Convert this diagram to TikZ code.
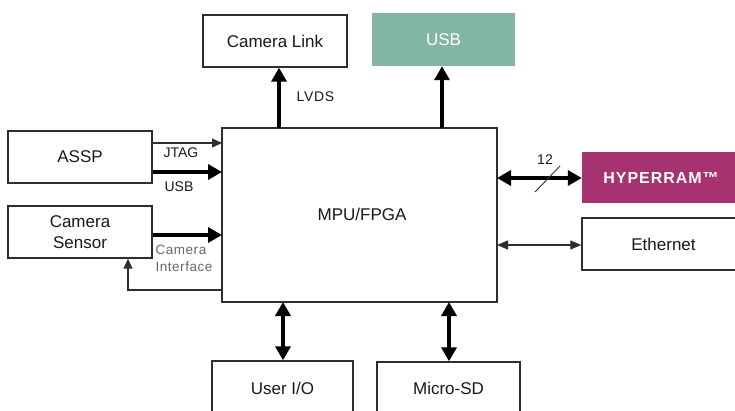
\documentclass[tikz,border=0pt]{standalone}
\usepackage{fontspec}
\setmainfont{Liberation Sans}
\usetikzlibrary{arrows.meta}
\definecolor{usbgreen}{HTML}{82B5A3}
\definecolor{hyper}{HTML}{A6336F}
\definecolor{edge}{HTML}{2E2E2E}
\begin{document}
\begin{tikzpicture}[x=1pt,y=-1pt,
  boxtext/.style={font=\fontsize{17}{21}\selectfont,text=black!90},
  box/.style={draw=edge,line width=1.4pt,fill=white,boxtext,inner sep=0pt},
  thick arr/.style={line width=4.2pt,-{Triangle[width=15pt,length=14pt]}},
  thick dbl/.style={line width=4.2pt,{Triangle[width=15pt,length=14pt]}-{Triangle[width=15pt,length=14pt]}},
  thin arr/.style={line width=1.2pt,draw=edge,-{Triangle[width=9pt,length=10pt]}},
  thin dbl/.style={line width=1.2pt,draw=edge,{Triangle[width=9pt,length=11pt]}-{Triangle[width=9pt,length=11pt]}},
  lbl/.style={font=\fontsize{14}{16}\selectfont,text=black!90,inner sep=0pt},
  small/.style={font=\fontsize{13.5}{17}\selectfont\addfontfeature{LetterSpace=4},text=black!60,align=left,inner sep=0pt}]
\useasboundingbox (0,0) rectangle (735,410);
% MPU/FPGA
\node[box,minimum width=275pt,minimum height=174pt] (mpu) at (359.5,215) {};
\node[boxtext] (mputext) at (362,214) {MPU/FPGA};
% other boxes
\node[box,minimum width=144pt,minimum height=52pt] (camlink) at (275,41) {Camera Link};
\node[draw=none,fill=usbgreen,text=white,minimum width=143pt,minimum height=53pt,boxtext,text=white] (usb) at (443.5,39.5) {USB};
\node[box,minimum width=144pt,minimum height=52pt] (assp) at (80,157) {ASSP};
\node[box,minimum width=144pt,minimum height=52pt,align=center] (cams) at (80,232) {Camera\\Sensor};
\node[draw=none,fill=hyper,text=white,minimum width=158pt,minimum height=51pt,font=\bfseries\fontsize{16}{19}\selectfont\addfontfeature{LetterSpace=6}] (hyper) at (661,177.5) {HYPERRAM™};
\node[box,minimum width=163pt,minimum height=52pt] (eth) at (663.5,244) {Ethernet};
\node[box,minimum width=141pt,minimum height=54pt] (uio) at (282.5,388) {User I/O};
\node[box,minimum width=143pt,minimum height=52pt] (msd) at (448.5,388) {Micro-SD};
% coordinates on MPU edges
\coordinate (mt1) at (279,128);
\coordinate (mt2) at (442,128);
\coordinate (mb1) at (283,302);
\coordinate (mb2) at (449,302);
\coordinate (ml1) at (222,143);
\coordinate (ml2) at (222,172);
\coordinate (ml3) at (222,235);
\coordinate (ml4) at (222,290);
\coordinate (mr1) at (497,178);
\coordinate (mr2) at (497,245);
\coordinate (fb) at (128,290);
% connectors
\draw[thick arr] (mt1) -- (mt1 |- camlink.south);
\draw[thick arr] (mt2) -- (mt2 |- usb.south);
\draw[thick dbl] (mb1) -- (mb1 |- uio.north);
\draw[thick dbl] (mb2) -- (mb2 |- msd.north);
\draw[thin arr] (assp.east |- ml1) -- (ml1);
\draw[thick arr] (assp.east |- ml2) -- (ml2);
\draw[thick arr] (cams.east |- ml3) -- (ml3);
\draw[thin arr] (ml4) -- (fb) -- (fb |- cams.south);
\draw[thick dbl] (mr1) -- (mr1 -| hyper.west);
\draw[thin dbl] (mr2) -- (mr2 -| eth.west);
\coordinate (s1) at (535,192);
\coordinate (s2) at (560,166);
\draw[line width=0.9pt,draw=edge] (s1) -- (s2);
% labels
\node[lbl,font=\fontsize{14}{16}\selectfont\addfontfeature{LetterSpace=5}] (lvds) at (315.5,97) {LVDS};
\node[lbl] (jtag) at (181,153) {JTAG};
\node[lbl] (usbl) at (179,187) {USB};
\node[small] (ci) at (184,258) {Camera\\Interface};
\node[lbl] (twelve) at (545,160) {12};
\end{tikzpicture}
\end{document}
